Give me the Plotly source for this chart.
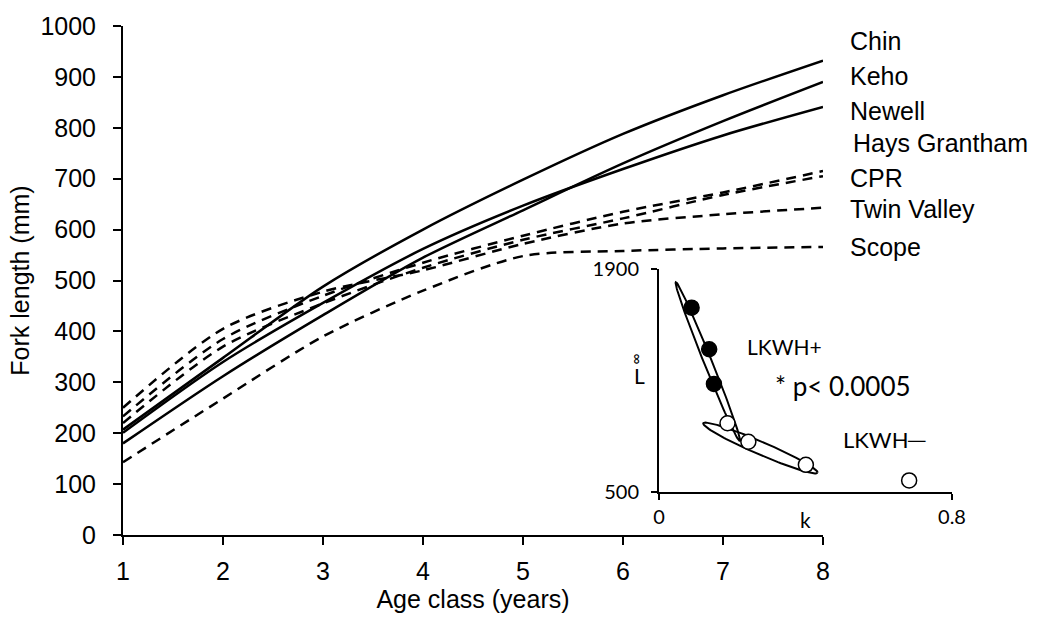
import numpy as np
import plotly.graph_objects as go

# ---------------- data ----------------
ages = [1, 2, 3, 4, 5, 6, 7, 8]

chin = [207, 348, 488, 600, 698, 788, 864, 932]
keho = [180, 312, 432, 545, 638, 730, 813, 890]
newell = [201, 340, 456, 562, 647, 719, 785, 841]
hays_grantham = [233, 385, 470, 535, 588, 635, 673, 715]
cpr = [220, 370, 455, 525, 580, 622, 668, 705]
twin_valley = [250, 405, 478, 520, 572, 612, 630, 643]
scope = [143, 268, 390, 480, 548, 558, 563, 566]

solid_series = {"Chin": chin, "Keho": keho, "Newell": newell}
dashed_series = {"Hays Grantham": hays_grantham, "CPR": cpr,
                 "Twin Valley": twin_valley, "Scope": scope}

label_names = ["Chin", "Keho", "Newell", "Hays Grantham", "CPR", "Twin Valley", "Scope"]
label_y = [970, 902, 833, 770, 702, 641, 566]

y_ticks = [0, 100, 200, 300, 400, 500, 600, 700, 800, 900, 1000]

# inset: von Bertalanffy parameters
k_pos = [0.089, 0.137, 0.150]
linf_pos = [1655, 1394, 1176]
k_neg = [0.187, 0.244, 0.401, 0.683]
linf_neg = [929, 813, 668, 570]

# confidence ellipses: tips (k, Linf)
ell_pos_tips = [(0.046, 1815), (0.221, 815)]
ell_neg_tips = [(0.121, 929), (0.433, 618)]

# ---------------- figure ----------------
W, H = 1037, 619
ML, MR, MT, MB = 123, 77, 21, 82
plot_w = W - ML - MR
plot_h = H - MT - MB
main_x_end = 700 / plot_w

inset_x0, inset_x1 = (659 - ML) / plot_w, (952 - ML) / plot_w
inset_y0, inset_y1 = (537 - 493) / plot_h, (537 - 267) / plot_h
inset_w_px = (inset_x1 - inset_x0) * plot_w
inset_h_px = (inset_y1 - inset_y0) * plot_h

fig = go.Figure()

for name, vals in solid_series.items():
    fig.add_trace(go.Scatter(x=ages, y=vals, mode="lines", name=name,
                             line=dict(color="black", width=2.5, shape="spline", smoothing=0.8),
                             xaxis="x", yaxis="y"))
for name, vals in dashed_series.items():
    fig.add_trace(go.Scatter(x=ages, y=vals, mode="lines", name=name,
                             line=dict(color="black", width=2.5, dash="10px,7px",
                                       shape="spline", smoothing=0.8),
                             xaxis="x", yaxis="y"))

# inset
kx_range = [0, 0.8]
ly_range = [500, 1900]
sx = (kx_range[1] - kx_range[0]) / inset_w_px
sy = (ly_range[1] - ly_range[0]) / inset_h_px


def ellipse(tips, half_width_px, n=120):
    (k1, l1), (k2, l2) = tips
    x1, y1, x2, y2 = k1 / sx, l1 / sy, k2 / sx, l2 / sy
    cx, cy = (x1 + x2) / 2, (y1 + y2) / 2
    a = np.hypot(x2 - x1, y2 - y1) / 2
    th = np.arctan2(y2 - y1, x2 - x1)
    t = np.linspace(0, 2 * np.pi, n)
    xs = cx + a * np.cos(th) * np.cos(t) - half_width_px * np.sin(th) * np.sin(t)
    ys = cy + a * np.sin(th) * np.cos(t) + half_width_px * np.cos(th) * np.sin(t)
    return xs * sx, ys * sy


for tips, hw in [(ell_pos_tips, 4.0), (ell_neg_tips, 6.5)]:
    ex, ey = ellipse(tips, hw)
    fig.add_trace(go.Scatter(x=ex, y=ey, mode="lines",
                             line=dict(color="black", width=2),
                             xaxis="x2", yaxis="y2", hoverinfo="skip"))

fig.add_trace(go.Scatter(x=k_pos, y=linf_pos, mode="markers",
                         marker=dict(size=15, color="black", line=dict(color="black", width=1.5)),
                         xaxis="x2", yaxis="y2"))
fig.add_trace(go.Scatter(x=k_neg, y=linf_neg, mode="markers",
                         marker=dict(size=15, color="white", line=dict(color="black", width=1.5)),
                         xaxis="x2", yaxis="y2"))

annotations = []
for name, yv in zip(label_names, label_y):
    xpx = 851 if name == "Hays Grantham" else 848
    annotations.append(dict(text=name, xref="paper", x=(xpx - ML) / plot_w, xanchor="left",
                            yref="y", y=yv, yanchor="middle", showarrow=False,
                            font=dict(family="Liberation Sans, Arial", size=25, color="black")))

inset_font = "Lato, Open Sans, sans-serif"
annotations += [
    dict(text="LKWH+", xref="x2", yref="y2", x=0.342, y=1412, showarrow=False,
         font=dict(family=inset_font, size=21, color="black")),
    dict(text="* p< 0.0005", xref="x2", yref="y2", x=0.503, y=1166, showarrow=False,
         font=dict(family=inset_font, size=26, color="black")),
    dict(text="LKWH\u2500", xref="x2", yref="y2", x=0.617, y=830, showarrow=False,
         font=dict(family=inset_font, size=22, color="black")),
    dict(text="k", xref="x2", yref="y2", x=0.4, y=500, yshift=-28, showarrow=False,
         font=dict(family=inset_font, size=21, color="black")),
    dict(text="L", xref="x2", yref="y2", x=0, y=1230, xshift=-20, showarrow=False,
         font=dict(family=inset_font, size=21, color="black")),
    dict(text="\u221e", xref="x2", yref="y2", x=0, y=1330, xshift=-24, textangle=-90,
         showarrow=False, font=dict(family=inset_font, size=15, color="black")),
]

axis_font = dict(family="Liberation Sans, Arial", size=25, color="black")

fig.update_layout(
    width=W, height=H,
    margin=dict(l=ML, r=MR, t=MT, b=MB, pad=0),
    paper_bgcolor="white", plot_bgcolor="white",
    showlegend=False,
    annotations=annotations,
    xaxis=dict(domain=[0, main_x_end], range=[1, 8], tickvals=ages,
               showline=True, linecolor="black", linewidth=2,
               ticks="outside", ticklen=8, tickwidth=2, tickcolor="black",
               showgrid=False, zeroline=False, tickfont=axis_font,
               ticklabelstandoff=5,
               title=dict(text="Age class (years)", font=axis_font, standoff=4)),
    yaxis=dict(domain=[0, 1], range=[0, 1000], tickvals=y_ticks,
               showline=True, linecolor="black", linewidth=2,
               ticks="outside", ticklen=8, tickwidth=2, tickcolor="black",
               showgrid=False, zeroline=False, tickfont=axis_font,
               ticklabelstandoff=12,
               title=dict(text="Fork length (mm)", font=axis_font, standoff=4)),
    xaxis2=dict(domain=[inset_x0, inset_x1], range=kx_range, anchor="y2",
                tickvals=[0, 0.8], ticktext=["0", "0.8"],
                showline=True, linecolor="black", linewidth=2,
                ticks="outside", ticklen=6, tickwidth=2, tickcolor="black",
                showgrid=False, zeroline=False,
                tickfont=dict(family=inset_font, size=20, color="black")),
    yaxis2=dict(domain=[inset_y0, inset_y1], range=ly_range, anchor="x2",
                tickvals=[500, 1900],
                showline=True, linecolor="black", linewidth=2,
                ticks="outside", ticklen=6, tickwidth=2, tickcolor="black",
                showgrid=False, zeroline=False, ticklabelstandoff=8,
                tickfont=dict(family=inset_font, size=20, color="black")),
)

fig.write_html("out.html")
